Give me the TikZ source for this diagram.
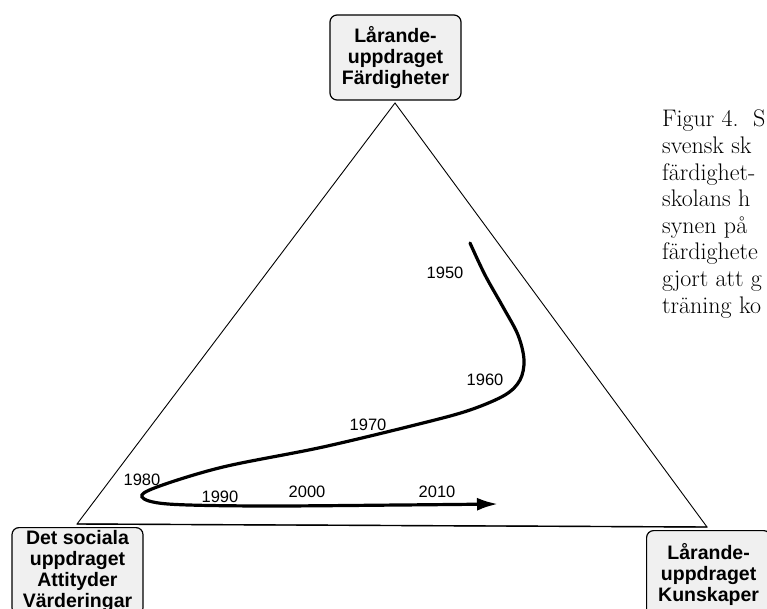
\documentclass[tikz,border=0pt]{standalone}
\usepackage{fontspec}
\newfontfamily\hv{Liberation Sans}
\usetikzlibrary{arrows.meta}
\begin{document}
\begin{tikzpicture}[x=1pt,y=-1pt,
  labbox/.style={draw, line width=1.2pt, rounded corners=7pt, fill=black!6,
    align=center, inner xsep=0pt, font=\hv\bfseries\fontsize{19.5}{21}\selectfont},
  yearlab/.style={font=\hv\fontsize{16.5}{18}\selectfont, inner sep=0pt},
  captext/.style={anchor=base west, inner sep=0pt, font=\fontsize{24}{26.6}\selectfont},
  triline/.style={line width=0.9pt},
  baseline/.style={line width=1.4pt},
  trendline/.style={line width=3.2pt, line cap=round, -{Latex[length=21pt,width=13pt]}}]
\useasboundingbox (0,0) rectangle (767,609);
\begin{scope}
\clip (0,0) rectangle (767,609);
\fill[white] (0,0) rectangle (767,609);
% boxes
\node[labbox, minimum width=131pt, minimum height=85pt, inner ysep=0pt] (top) at (395.5,57.5) {Lårande-\\uppdraget\\Färdigheter};
\node[labbox, anchor=north, minimum width=131pt, inner ysep=3pt] (soc) at (77.5,527) {Det sociala\\uppdraget\\Attityder\\Värderingar};
\node[labbox, anchor=north west, minimum width=124pt, inner ysep=13pt] (kun) at (646,530) {Lårande-\\uppdraget\\Kunskaper};
% triangle
\coordinate (A) at (395,103);
\coordinate (B) at (77,524);
\coordinate (C) at (707,527);
\draw[triline] (A) -- (B) -- (C) -- cycle;
\draw[baseline] (B) -- (C);
% trend curve
\draw[trendline] plot[smooth, tension=0.55] coordinates {(470,243) (485,275) (503,307) (518,335) (524,360) (520,380) (505,395) (470,410) (423,423) (323,447) (223,467) (157,487) (142,497) (168,504) (260,506) (400,505) (498,504)};
% years
\node[yearlab] (y1950) at (445,273) {1950};
\node[yearlab] (y1960) at (485,380) {1960};
\node[yearlab] (y1970) at (368,425) {1970};
\node[yearlab] (y1980) at (142,480) {1980};
\node[yearlab] (y1990) at (220,497) {1990};
\node[yearlab] (y2000) at (307,492) {2000};
\node[yearlab] (y2010) at (437,492) {2010};
% caption
\node[captext] (c1) at (662,127) {Figur 4.\ \ S};
\node[captext] (c2) at (662,153.6) {svensk sk};
\node[captext] (c3) at (662,180.2) {färdighet-};
\node[captext] (c4) at (662,206.8) {skolans h};
\node[captext] (c5) at (662,233.4) {synen på};
\node[captext] (c6) at (662,260) {färdighete};
\node[captext] (c7) at (662,286.6) {gjort att g};
\node[captext] (c8) at (662,313.2) {träning ko};
\end{scope}
\end{tikzpicture}
\end{document}
